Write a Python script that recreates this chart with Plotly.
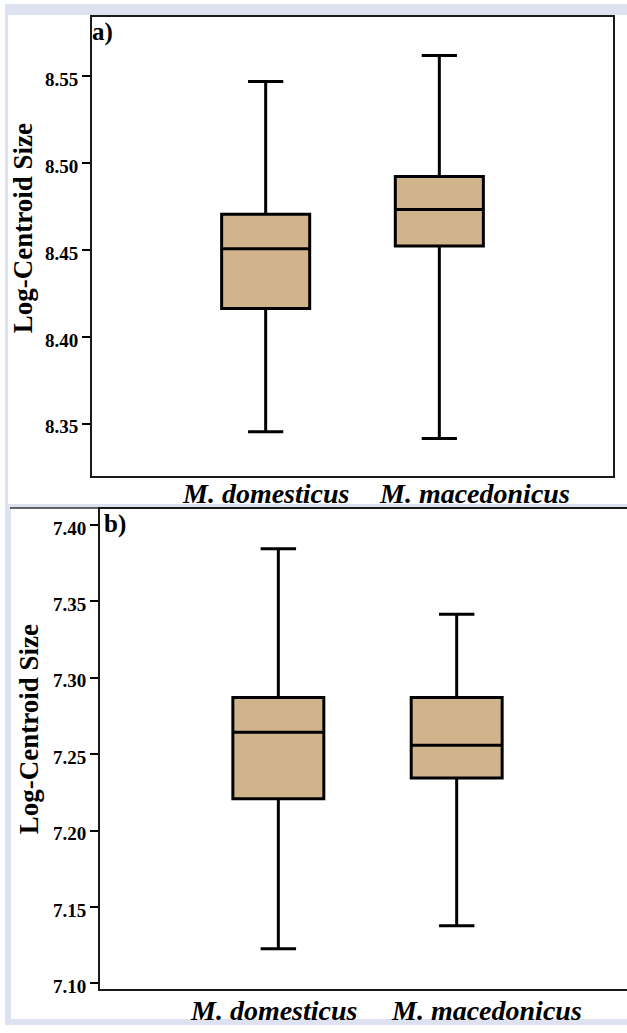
import plotly.graph_objects as go

W, H = 627, 1033

species = ["M. domesticus", "M. macedonicus"]

# Panel a) values
a_q1 = [8.4163, 8.4523]
a_median = [8.4507, 8.4734]
a_q3 = [8.4706, 8.4923]
a_lower = [8.3454, 8.3414]
a_upper = [8.5471, 8.5620]
a_ticks = [8.35, 8.40, 8.45, 8.50, 8.55]

# Panel b) values
b_q1 = [7.2208, 7.2344]
b_median = [7.2643, 7.2558]
b_q3 = [7.2870, 7.2870]
b_lower = [7.1227, 7.1377]
b_upper = [7.3844, 7.3416]
b_ticks = [7.10, 7.15, 7.20, 7.25, 7.30, 7.35, 7.40]

ytitle = "Log-Centroid Size"
FILL = "#D2B48C"
SERIF = "Liberation Serif"


def fx(px):
    return px / W


def fy(py):
    return 1 - py / H


fig = go.Figure()

for i, sp in enumerate(species):
    fig.add_trace(go.Box(
        x=[sp], q1=[a_q1[i]], median=[a_median[i]], q3=[a_q3[i]],
        lowerfence=[a_lower[i]], upperfence=[a_upper[i]],
        width=0.507, whiskerwidth=0.4, fillcolor=FILL,
        line=dict(color="black", width=3), boxpoints=False,
        showlegend=False, hoverinfo="skip", xaxis="x", yaxis="y"))
    fig.add_trace(go.Box(
        x=[sp], q1=[b_q1[i]], median=[b_median[i]], q3=[b_q3[i]],
        lowerfence=[b_lower[i]], upperfence=[b_upper[i]],
        width=0.51, whiskerwidth=0.39, fillcolor=FILL,
        line=dict(color="black", width=3), boxpoints=False,
        showlegend=False, hoverinfo="skip", xaxis="x2", yaxis="y2"))

tickfont = dict(family=SERIF, size=19, color="black", weight="bold")
common_y = dict(ticks="outside", ticklen=8, tickwidth=1.5, tickcolor="black",
                showline=True, linecolor="#1a1a1a", linewidth=2,
                showgrid=False, zeroline=False, tickformat=".2f",
                tickfont=tickfont, ticklabelshift=3)
common_x = dict(type="category", categoryorder="array", categoryarray=species,
                showticklabels=False, ticks="", showline=True,
                linecolor="#1a1a1a", linewidth=2, showgrid=False,
                zeroline=False, mirror=True)

fig.update_layout(
    width=W, height=H, autosize=False,
    margin=dict(l=0, r=0, t=0, b=0),
    paper_bgcolor="white", plot_bgcolor="white",
    xaxis=dict(domain=[fx(92), fx(613)], range=[-1, 2], anchor="y", **common_x),
    yaxis=dict(domain=[fy(480), fy(17)], range=[8.3197, 8.5843],
               tickvals=a_ticks, anchor="x", mirror=True, **common_y),
    xaxis2=dict(domain=[fx(100), 1.0], range=[-1, 1.955], anchor="y2", **common_x),
    yaxis2=dict(domain=[fy(997), fy(513)], range=[7.0961, 7.4104],
                tickvals=b_ticks, anchor="x2", mirror=False, **common_y),
)

shapes = [
    dict(type="rect", xref="paper", yref="paper", x0=fx(5), x1=1.0,
         y0=fy(1033), y1=fy(4), fillcolor="#dee2f0", line=dict(width=0), layer="below"),
    dict(type="rect", xref="paper", yref="paper", x0=fx(8), x1=1.0,
         y0=fy(508), y1=fy(15), fillcolor="white", line=dict(width=0), layer="below"),
    dict(type="rect", xref="paper", yref="paper", x0=fx(11), x1=1.0,
         y0=fy(1027), y1=fy(512), fillcolor="white", line=dict(width=0), layer="below"),
    dict(type="line", xref="paper", yref="paper", x0=fx(10), x1=1.0,
         y0=fy(512), y1=fy(512), line=dict(color="#333333", width=1.5), layer="below"),
]
fig.update_layout(shapes=shapes)

label_font = dict(family=SERIF, size=28, color="black", weight="bold", style="italic")
ann = []
# x labels panel a
for sp, xs in zip(species, [0, 35]):
    ann.append(dict(text=sp, xref="x", yref="paper", x=sp, y=fy(497), xshift=xs,
                    xanchor="center", yanchor="middle", showarrow=False, font=label_font))
# x labels panel b
for sp, xs in zip(species, [-4, 30]):
    ann.append(dict(text=sp, xref="x2", yref="paper", x=sp, y=fy(1018.5), xshift=xs,
                    xanchor="center", yanchor="middle", showarrow=False, font=label_font))
# y titles
title_font = dict(family=SERIF, size=27, color="black", weight="bold")
ann.append(dict(text=ytitle, xref="paper", yref="paper", x=fx(23), y=fy(230),
                textangle=-90, xanchor="center", yanchor="middle", showarrow=False,
                font=title_font))
ann.append(dict(text=ytitle, xref="paper", yref="paper", x=fx(29), y=fy(735),
                textangle=-90, xanchor="center", yanchor="middle", showarrow=False,
                font=title_font))
# panel letters
panel_font = dict(family=SERIF, size=25, color="black", weight="bold")
ann.append(dict(text="a)", xref="paper", yref="paper", x=fx(90), y=fy(16),
                xanchor="left", yanchor="top", showarrow=False, font=panel_font))
ann.append(dict(text="b)", xref="paper", yref="paper", x=fx(102), y=fy(512),
                xanchor="left", yanchor="top", showarrow=False, font=panel_font))
fig.update_layout(annotations=ann)

fig.write_html("out.html", config={"displayModeBar": False},
               post_script="document.body.style.margin='0';document.body.style.overflow='hidden';")
